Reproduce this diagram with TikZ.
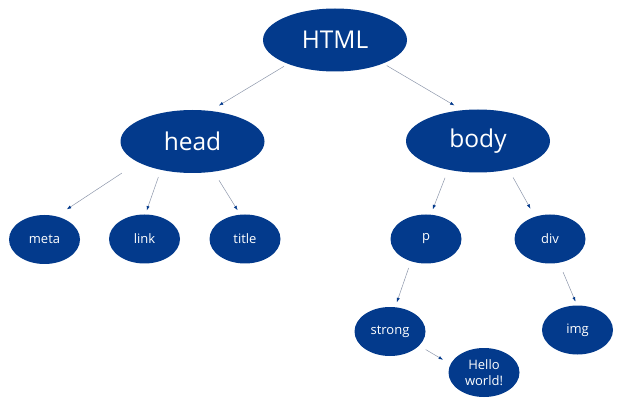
\documentclass[tikz,border=0pt]{standalone}
\usepackage{fontspec}
\setmainfont{Open Sans}
\usetikzlibrary{arrows.meta, shapes.geometric}
\definecolor{nodeBlue}{RGB}{3, 58, 140}
\definecolor{edgeGray}{RGB}{140, 150, 170}

\begin{document}
\begin{tikzpicture}[
    x=1pt, y=-1pt,
    big/.style={ellipse, fill=nodeBlue, text=white, inner sep=0pt, minimum width=144pt, minimum height=63pt, font=\fontsize{24.5}{28}\selectfont},
    small/.style={ellipse, fill=nodeBlue, text=white, inner sep=0pt, minimum width=71pt, minimum height=49pt, align=center, font=\fontsize{13}{15.5}\selectfont},
    link/.style={-{Latex[length=4.5pt, width=3.2pt, color=nodeBlue]}, draw=edgeGray, line width=0.5pt}
  ]
    \useasboundingbox (0,0) rectangle (622,401);

    % Root and second level
    \node[big] (html) at (335,40) {HTML};
    \node[big] (head) at (192.5,141.5) {head};
    \node[big] (body) at (478,141) {body};

    % Children of head
    \node[small] (meta) at (44.5,239.5) {meta};
    \node[small] (linktag) at (144.5,239) {link};
    \node[small] (title) at (245,239) {title};

    % Children of body
    \node[small] (p) at (426,239) {p};
    \node[small] (div) at (550,239) {div};
    \node[small] (strong) at (390,331.5) {strong};
    \node[small] (img) at (577.5,330) {img};
    \node[small] (hello) at (484,372.5) {Hello\\world!};

    % Connectors, kept off the ellipses
    \draw[link, shorten <=4.5pt, shorten >=10pt] (html.207) -- (head.60);
    \draw[link, shorten <=4pt, shorten >=9pt] (html.334) -- (body.117);
    \draw[link, shorten <=19.5pt, shorten >=12.5pt] (head.201) -- (meta.63);
    \draw[link, shorten <=7.5pt, shorten >=4pt] (head.222) -- (linktag.88);
    \draw[link, shorten <=10pt, shorten >=5pt] (head.305) -- (title.101);
    \draw[link, shorten <=8.5pt, shorten >=5.5pt] (body.224) -- (p.79);
    \draw[link, shorten <=9pt, shorten >=9pt] (body.317) -- (div.124);
    \draw[link, shorten <=7pt, shorten >=5pt] (p.236) -- (strong.78);
    \draw[link, shorten <=10pt, shorten >=4pt] (div.291) -- (img.91);
    \draw[link, shorten <=7.5pt, shorten >=8.5pt] (strong.334) -- (hello.166);
  \end{tikzpicture}
\end{document}
